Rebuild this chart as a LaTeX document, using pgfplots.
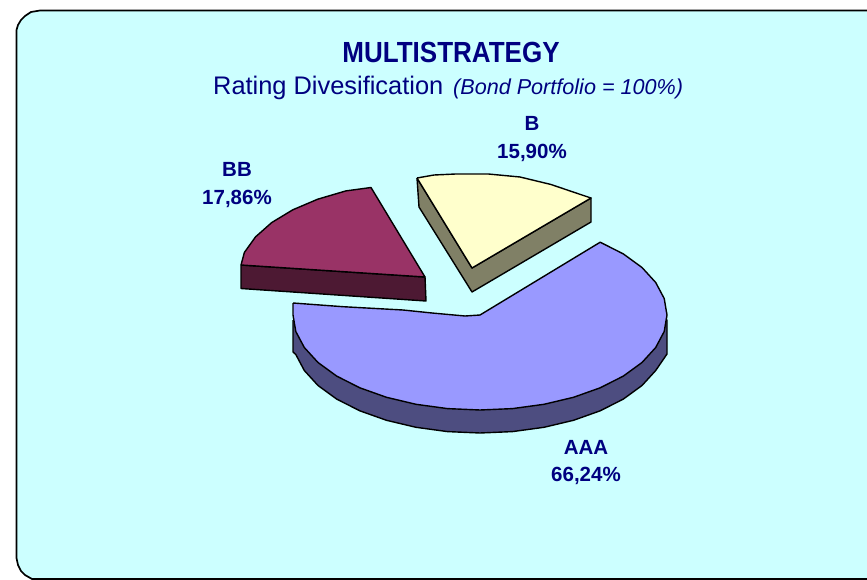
\documentclass[border=0pt]{standalone}
\usepackage{pgfplots}
\pgfplotsset{compat=1.18}
\usepackage{fontspec}
\setmainfont{Liberation Sans}
\definecolor{bg}{HTML}{CCFFFF}
\definecolor{navy}{HTML}{000080}
\definecolor{aaa}{HTML}{9999FF}
\definecolor{aaad}{HTML}{4D4D80}
\definecolor{bb}{HTML}{993366}
\definecolor{bbd}{HTML}{4D1933}
\definecolor{bc}{HTML}{FFFFCC}
\definecolor{bd}{HTML}{808066}
\begin{document}
\begin{tikzpicture}
\begin{axis}[
  width=867pt,height=580pt,scale only axis,
  xmin=0,xmax=867,ymin=0,ymax=580,y dir=reverse,
  axis lines=none,clip=true,
  every axis plot/.append style={mark=none,draw=black,line width=1.4pt,line join=round}]
% page
\addplot[fill=white,draw=none] coordinates {(-5,-5)(872,-5)(872,585)(-5,585)(-5,-5)};
% frame
\addplot[fill=bg,line width=1.7pt] coordinates {(16.5,30)(18,25)(21,20)(25,16)(31,12)(40,10.5)(880,10.5)(880,579)(32,579)(25,575)(21,571)(18,565)(16.5,558)(16.5,30)};
% BB
\addplot[fill=bbd] coordinates {(241,265)(425,277)(426,301)(241,288.5)(241,265)};
\addplot[fill=bb] coordinates {(241,265)(244.4,252.4)(255.6,236.8)(271.8,222.5)(292.8,209.8)(317.7,199.2)(345.9,190.9)(371,187.5)(425,277)(241,265)};
% B
\addplot[fill=bd] coordinates {(417,178)(419,207)(472,292)(591,222)(591,198)(472,268)(417,178)};
\addplot[fill=bc] coordinates {(417,178)(434,175)(455.7,174)(488.3,174)(520,177)(551,184.5)(579,194)(591,198)(472,268)(417,178)};
% AAA
\addplot[fill=aaad] coordinates {(293,320)(293,352)(295.8,354.5)(304.3,370.5)(318,385.5)(336.7,399.1)(359.8,410.8)(386.5,420.3)(416,427.3)(447.5,431.6)(480,433)(512.5,431.6)(544,427.3)(573.5,420.3)(600.2,410.8)(623.3,399.1)(642,385.5)(655.7,370.5)(667,354)(667,320)(480,350)(293,320)};
\addplot[fill=aaa] coordinates {(293,303)(343,306.7)(403,310)(432,313)(465,316)(480,315)(600.2,242.2)(623.3,253.9)(642,267.5)(655.7,282.5)(664.2,298.5)(667,315)(664.2,331.5)(655.7,347.5)(642,362.5)(623.3,376.1)(600.2,387.8)(573.5,397.3)(544,404.3)(512.5,408.6)(480,410)(447.5,408.6)(416,404.3)(386.5,397.3)(359.8,387.8)(336.7,376.1)(318,362.5)(304.3,347.5)(295.8,331.5)(293,315)(293,303)};
% text
\node[text=navy,font=\fontsize{26}{26}\selectfont\bfseries,yscale=1.12,transform shape] at (axis cs:451,52.5) {MULTISTRATEGY};
\node[text=navy,font=\fontsize{25.4}{26}\selectfont,anchor=base west,inner sep=0pt] at (axis cs:213,95) {Rating Divesification};
\node[text=navy,font=\fontsize{21.6}{22}\selectfont\itshape,anchor=base west,inner sep=0pt] at (axis cs:453,95) {(Bond Portfolio = 100\%)};
\node[text=navy,font=\fontsize{20.5}{21}\selectfont\bfseries] at (axis cs:532,123) {B};
\node[text=navy,font=\fontsize{20.5}{21}\selectfont\bfseries] at (axis cs:532,153) {15,90\%};
\node[text=navy,font=\fontsize{20.5}{21}\selectfont\bfseries] at (axis cs:237,169) {BB};
\node[text=navy,font=\fontsize{20.5}{21}\selectfont\bfseries] at (axis cs:237,199) {17,86\%};
\node[text=navy,font=\fontsize{20.5}{21}\selectfont\bfseries] at (axis cs:586,447) {AAA};
\node[text=navy,font=\fontsize{20.5}{21}\selectfont\bfseries] at (axis cs:586,476) {66,24\%};
\end{axis}
\end{tikzpicture}
\end{document}
